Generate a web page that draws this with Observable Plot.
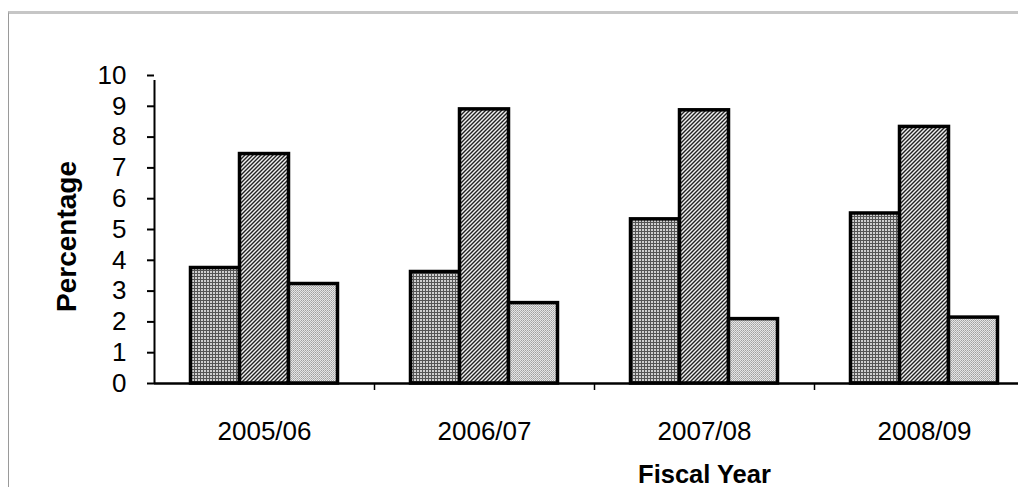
<!DOCTYPE html>
<html>
<head>
<meta charset="utf-8">
<script src="https://cdn.jsdelivr.net/npm/d3@7"></script>
<script src="https://cdn.jsdelivr.net/npm/@observablehq/plot@0.6"></script>
<style>
  html, body { margin: 0; padding: 0; background: #fff; }
  #wrap { position: relative; width: 1018px; height: 487px; overflow: hidden; }
  #border { position: absolute; left: 8px; top: 11px; width: 1020px; height: 480px;
            border-top: 3px solid #c6c6c6; border-left: 1px solid #9a9a9a; pointer-events: none; }
</style>
</head>
<body>
<div id="wrap"><div id="border"></div></div>
<script>
const years = ["2005/06", "2006/07", "2007/08", "2008/09"];
const series1 = [3.75, 3.62, 5.33, 5.52];
const series2 = [7.45, 8.90, 8.87, 8.33];
const series3 = [3.23, 2.61, 2.09, 2.14];
const yTicks = [0, 1, 2, 3, 4, 5, 6, 7, 8, 9, 10];
const xTitle = "Fiscal Year";
const yTitle = "Percentage";

const rows = (vals) => years.map((year, i) => ({year, value: vals[i]}));
const barW = 49;
const bw = 220;
const inset = (bw - barW) / 2;
const barStyle = {x: "year", y: "value", stroke: "black", strokeWidth: 3.5, insetLeft: inset, insetRight: inset};

const font = "'Liberation Sans', Arial, sans-serif";

const chart = Plot.plot({
  width: 1018,
  height: 487,
  marginLeft: 154,
  marginRight: 0,
  marginTop: 75,
  marginBottom: 104,
  style: {fontFamily: font, color: "black", background: "transparent", overflow: "visible"},
  x: {domain: years, range: [154, 1034], padding: 0},
  y: {domain: [0, 10]},
  marks: [
    Plot.barY(rows(series1), {...barStyle, fill: "url(#pGrid)", dx: -barW}),
    Plot.barY(rows(series2), {...barStyle, fill: "url(#pDiag)"}),
    Plot.barY(rows(series3), {...barStyle, fill: "url(#pDots)", dx: barW}),
    Plot.ruleY([0], {stroke: "black", strokeWidth: 2.5}),
    Plot.ruleX([years[0]], {dx: -bw / 2, y1: 0, y2: 10, insetBottom: -5, stroke: "black", strokeWidth: 2}),
    Plot.ruleX(years, {dx: bw / 2, y1: 0, y2: 0, insetBottom: -7, stroke: "black", strokeWidth: 1.5}),
    Plot.axisY({ticks: yTicks, tickSize: 7, tickPadding: 21, strokeWidth: 2, fontSize: 26, label: null, tickFormat: d => String(d)}),
    Plot.axisX({tickSize: 0, tickPadding: 38, fontSize: 26, label: null}),
    Plot.text([xTitle], {frameAnchor: "bottom", dx: 118, dy: 91, fontSize: 25.5, fontWeight: "bold", textAnchor: "middle", lineAnchor: "middle"}),
    Plot.text([yTitle], {frameAnchor: "left", dx: -87, dy: 7, rotate: -90, fontSize: 28, fontWeight: "bold", textAnchor: "middle", lineAnchor: "middle"})
  ]
});

const defs = d3.select(chart).insert("defs", ":first-child");
// grid pattern (series 1)
const p1 = defs.append("pattern").attr("id", "pGrid").attr("patternUnits", "userSpaceOnUse").attr("width", 3).attr("height", 3);
p1.append("rect").attr("width", 3).attr("height", 3).attr("fill", "#cfcfcf");
p1.append("rect").attr("width", 3).attr("height", 1).attr("fill", "#555");
p1.append("rect").attr("width", 1).attr("height", 3).attr("fill", "#555");
// diagonal pattern (series 2)
const p2 = defs.append("pattern").attr("id", "pDiag").attr("patternUnits", "userSpaceOnUse").attr("width", 4).attr("height", 4);
p2.append("rect").attr("width", 4).attr("height", 4).attr("fill", "#f0f0f0");
p2.append("path").attr("d", "M-1,1 L1,-1 M0,4 L4,0 M3,5 L5,3").attr("stroke", "#222").attr("stroke-width", 1.4);
// dots pattern (series 3)
const p3 = defs.append("pattern").attr("id", "pDots").attr("patternUnits", "userSpaceOnUse").attr("width", 2).attr("height", 2);
p3.append("rect").attr("width", 2).attr("height", 2).attr("fill", "#e6e6e6");
p3.append("rect").attr("width", 1).attr("height", 1).attr("fill", "#a0a0a0");
p3.append("rect").attr("x", 1).attr("y", 1).attr("width", 1).attr("height", 1).attr("fill", "#b4b4b4");

document.getElementById("wrap").prepend(chart);
</script>
</body>
</html>
